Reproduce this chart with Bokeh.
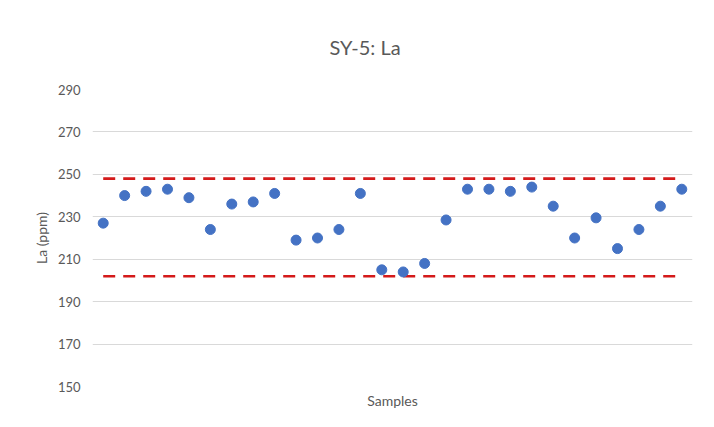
from bokeh.plotting import figure
from bokeh.models import FixedTicker, ColumnDataSource
from bokeh.embed import file_html
from bokeh.resources import INLINE

# Data
samples = list(range(1, 29))
la_ppm = [227, 240, 242, 243, 239, 224, 236, 237, 241, 219, 220, 224, 241, 205,
          204, 208, 228.5, 243, 243, 242, 244, 235, 220, 229.5, 215, 224, 235, 243]
limit_x = [1, 28]
upper_limit = [248, 248]
lower_limit = [202, 202]
y_ticks = [150, 170, 190, 210, 230, 250, 270, 290]

FONT = "Lato"
GREY = "#595959"

p = figure(width=706, height=419, output_backend="svg", toolbar_location=None,
           x_range=(0.5, 28.5), y_range=(150, 290),
           min_border_left=92, min_border_right=14, min_border_top=89, min_border_bottom=33,
           title="SY-5: La")
p.outline_line_color = None
p.background_fill_color = "white"
p.border_fill_color = "white"

p.title.align = "left"
p.title.vertical_align = "top"
p.title.text_font = FONT
p.title.text_font_size = "20px"
p.title.text_font_style = "normal"
p.title.text_color = GREY
p.title.offset = 237
p.title.standoff = 58

src = ColumnDataSource(dict(x=samples, y=la_ppm))
p.line(limit_x, upper_limit, line_color="#d41a1a", line_width=2.6, line_dash="12 8")
p.line(limit_x, lower_limit, line_color="#d41a1a", line_width=2.6, line_dash="12 8")
p.scatter("x", "y", source=src, size=10, fill_color="#4472C4", line_color="#4472C4")

p.xgrid.visible = False
p.ygrid.grid_line_color = "#d9d9d9"
p.ygrid.grid_line_width = 1
p.yaxis.ticker = FixedTicker(ticks=y_ticks)
p.yaxis.axis_line_color = None
p.yaxis.major_tick_line_color = None
p.yaxis.major_tick_out = 0
p.yaxis.minor_tick_line_color = None
p.yaxis.minor_tick_out = 0
p.yaxis.major_label_standoff = 12
p.yaxis.major_label_text_font = FONT
p.yaxis.major_label_text_font_size = "13px"
p.yaxis.major_label_text_color = GREY
p.yaxis.axis_label = "La (ppm)"
p.yaxis.axis_label_text_font = FONT
p.yaxis.axis_label_text_font_size = "14px"
p.yaxis.axis_label_text_font_style = "normal"
p.yaxis.axis_label_text_color = GREY
p.yaxis.axis_label_standoff = 5

p.xaxis.ticker = FixedTicker(ticks=[])
p.xaxis.axis_line_color = None
p.xaxis.major_tick_line_color = None
p.xaxis.major_tick_out = 0
p.xaxis.minor_tick_line_color = None
p.xaxis.minor_tick_out = 0
p.xaxis.major_label_text_font_size = "0px"
p.xaxis.axis_label = "Samples"
p.xaxis.axis_label_text_font = FONT
p.xaxis.axis_label_text_font_size = "14px"
p.xaxis.axis_label_text_font_style = "normal"
p.xaxis.axis_label_text_color = GREY
p.xaxis.axis_label_standoff = 5

open("out.html", "w").write(file_html(p, INLINE))
